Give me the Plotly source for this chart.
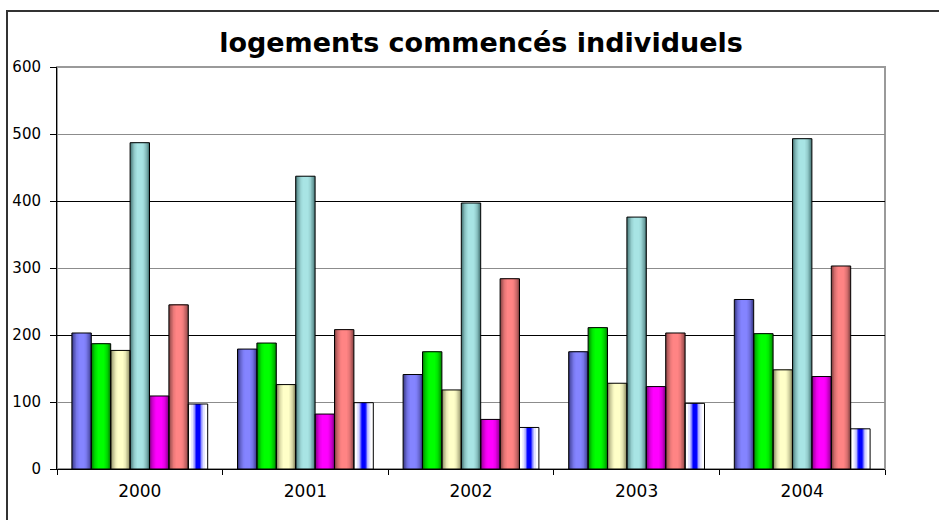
import plotly.graph_objects as go

# ---- data ----
years = ["2000", "2001", "2002", "2003", "2004"]
serie1 = [203, 179, 141, 175, 253]
serie2 = [187, 188, 175, 211, 202]
serie3 = [177, 126, 118, 128, 148]
serie4 = [487, 437, 397, 376, 493]
serie5 = [109, 82, 74, 123, 138]
serie6 = [245, 208, 284, 203, 303]
serie7 = [97, 99, 62, 98, 60]
y_ticks = [0, 100, 200, 300, 400, 500, 600]
title_text = "logements commencés individuels"

series_values = [serie1, serie2, serie3, serie4, serie5, serie6, serie7]
series_names = ["Série 1", "Série 2", "Série 3", "Série 4", "Série 5", "Série 6", "Série 7"]

# ---- styling ----
def hex2rgb(h):
    h = h.lstrip("#")
    return tuple(int(h[i:i + 2], 16) for i in (0, 2, 4))

def mix(c1, c2, t):
    a, b = hex2rgb(c1), hex2rgb(c2)
    return "rgb(%d,%d,%d)" % tuple(round(a[i] + (b[i] - a[i]) * t) for i in range(3))

# (edge colour, centre colour) for the Excel-like shaded bars
gradients = [
    ("#3c3c8c", "#8484ff"),
    ("#008c00", "#00ff00"),
    ("#8c8c64", "#ffffc8"),
    ("#4c7c7c", "#a8e4e4"),
    ("#8c008c", "#ff00ff"),
    ("#8c4646", "#ff8484"),
]
fracs = [1.0, 0.86, 0.72, 0.58, 0.44, 0.3]
ts = [0.0, 0.35, 0.6, 0.8, 0.92, 1.0]

group_w = 0.82
bw = group_w / len(series_values)

fig = go.Figure()
for i, (name, vals) in enumerate(zip(series_names, series_values)):
    center = -group_w / 2 + bw * (i + 0.5)
    if i < 6:
        e, c = gradients[i]
        layers = [(f, mix(e, c, t)) for f, t in zip(fracs, ts)]
    else:
        layers = [(1.0, "#ffffff"), (0.7, "#e4e4ff"), (0.5, "#b4b4ff"),
                  (0.34, "#5050ff"), (0.22, "#0000ff")]
    for f, col in layers:
        w = bw * f
        fig.add_trace(go.Bar(
            x=years, y=vals, name=name, width=w, offset=center - w / 2,
            marker=dict(color=col, line=dict(width=0)),
            showlegend=False, hoverinfo="skip"))
    fig.add_trace(go.Bar(
        x=years, y=vals, name=name, width=bw, offset=center - bw / 2,
        marker=dict(color="rgba(0,0,0,0)", line=dict(color="black", width=1)),
        showlegend=False, yaxis="y2"))

L, R, T, B = 57, 54, 67, 51
W, H = 939, 520
pw, ph = W - L - R, H - T - B

fig.update_layout(
    width=W, height=H,
    margin=dict(l=L, r=R, t=T, b=B),
    paper_bgcolor="white", plot_bgcolor="white",
    barmode="overlay",
    showlegend=False,
    title=dict(text="<b>" + title_text + "</b>", x=481 / W, xanchor="center",
               y=1 - 43 / H, yanchor="middle",
               font=dict(family="DejaVu Sans", size=27, color="black")),
    xaxis=dict(type="category", range=[-0.5, 4.5], showgrid=False,
               showline=True, linecolor="black", linewidth=1,
               ticks="outside", tickson="boundaries", ticklen=5, tickcolor="black",
               ticklabelstandoff=7,
               tickfont=dict(family="DejaVu Sans", size=17, color="black")),
    yaxis=dict(range=[0, 600], tickvals=y_ticks, showgrid=True,
               gridcolor="#8c8c8c", gridwidth=1, zeroline=False,
               showline=True, linecolor="black", linewidth=1,
               ticks="outside", ticklen=6, tickcolor="black",
               ticklabelstandoff=6,
               tickfont=dict(family="DejaVu Sans", size=15, color="black")),
    yaxis2=dict(range=[0, 600], overlaying="y", tickvals=y_ticks[2:-1:2],
                showgrid=True, gridcolor="black", gridwidth=1, zeroline=False,
                showticklabels=False, ticks="", showline=False),
    shapes=[
        # plot-area frame (grey right/top edge)
        dict(type="rect", xref="paper", yref="paper", x0=0, x1=1, y0=0, y1=1,
             line=dict(color="#9a9a9a", width=2), layer="below"),
        # chart-area border, partly outside the picture
        dict(type="rect", xref="paper", yref="paper",
             x0=(7 - L) / pw, x1=1.5, y0=-0.5, y1=(H - B - 11) / ph,
             line=dict(color="#333333", width=2), layer="below"),
    ],
)

fig.write_html("out.html")
